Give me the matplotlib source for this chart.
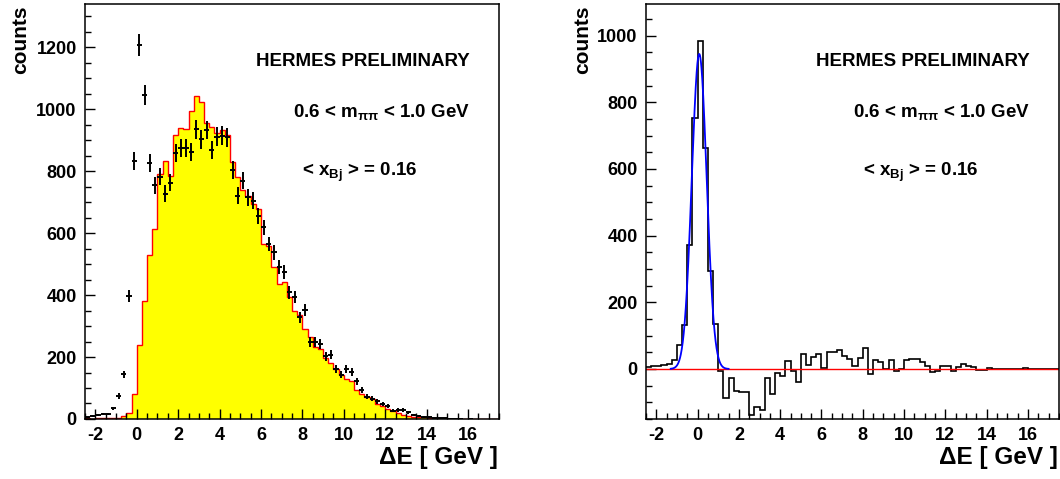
import matplotlib.pyplot as plt
from matplotlib.ticker import MultipleLocator
import numpy as np

plt.rcParams['font.family'] = ['Liberation Sans', 'DejaVu Sans']
plt.rcParams['font.weight'] = 'bold'
plt.rcParams['axes.unicode_minus'] = False
plt.rcParams['mathtext.fontset'] = 'custom'
plt.rcParams['mathtext.rm'] = 'Liberation Sans:bold'
plt.rcParams['mathtext.it'] = 'Liberation Sans:bold'
plt.rcParams['mathtext.bf'] = 'Liberation Sans:bold'

# binning of both histograms: 80 bins of 0.25 GeV from -2.5 GeV
bin_lo = -2.5
bin_w = 0.25
n_bins = 80

# left panel: Monte Carlo (yellow) and data points, counts per bin
mc_counts = [
    2, 1, 3, 2, 4, 3, 4, 10, 20, 80,
    240, 382, 528, 615, 790, 832, 783, 918, 939, 936,
    995, 1042, 1022, 957, 942, 925, 932, 918, 830, 780,
    738, 720, 694, 678, 565, 560, 490, 437, 441, 393,
    350, 335, 292, 264, 231, 225, 198, 182, 161, 143,
    129, 124, 92, 81, 70, 65, 48, 43, 32, 27,
    18, 14, 11, 8, 6, 5, 3, 2, 1, 1,
    1, 0, 0, 0, 0, 0, 0, 0, 0, 0,
]
data_counts = [
    5, 9, 13, 16, 16, 34, 74, 144, 398, 834,
    1208, 1047, 826, 755, 782, 728, 763, 858, 876, 876,
    863, 936, 903, 933, 868, 912, 915, 909, 804, 721,
    769, 716, 705, 656, 619, 565, 538, 490, 474, 409,
    393, 328, 352, 248, 248, 242, 202, 208, 162, 143,
    162, 151, 122, 94, 72, 65, 57, 48, 43, 27,
    29, 29, 22, 13, 9, 6, 5, 3, 2, 2,
    1, 1, 1, 0, 1, 0, 0, 0, 0, 0,
]

# right panel: data minus Monte Carlo, counts per bin
diff_counts = [
    7, 10, 10, 12, 15, 27, 72, 133, 372, 752,
    983, 662, 293, 135, -7, -88, -28, -65, -70, -70,
    -138, -113, -123, -28, -75, -13, -20, 24, -6, -38,
    45, 13, 36, 46, 3, 50, 50, 58, 40, 30,
    10, 33, 62, -14, 26, 20, 0, 28, -5, 0,
    28, 30, 30, 22, 8, -9, -5, 10, 8, -7,
    5, 15, 10, 5, -2, -2, 2, -1, 0, 0,
    -1, 0, -1, 2, 0, 0, 0, 0, 0, 0,
]

# gaussian fit to the exclusive peak
fit_amp = 945.0
fit_mean = 0.08
fit_sigma = 0.36
fit_range = (-1.3, 1.5)

label_lines = ['HERMES PRELIMINARY',
               r'0.6 < m$_{\pi\pi}$ < 1.0 GeV',
               r'< x$_{\mathrm{Bj}}$ > = 0.16']

edges = bin_lo + bin_w * np.arange(n_bins + 1)
centers = edges[:-1] + bin_w / 2


def _style(ax, ylim):
    ax.set_xlim(edges[0], edges[-1])
    ax.set_ylim(*ylim)
    ax.xaxis.set_major_locator(MultipleLocator(2))
    ax.xaxis.set_minor_locator(MultipleLocator(0.5))
    ax.yaxis.set_major_locator(MultipleLocator(200))
    ax.yaxis.set_minor_locator(MultipleLocator(50))
    ax.tick_params(which='both', direction='in', top=False, right=False,
                   width=1, labelsize=13)
    ax.tick_params(which='major', length=7)
    ax.tick_params(which='minor', length=4)
    ax.tick_params(axis='x', pad=6)
    ax.tick_params(axis='y', pad=6)
    for s in ax.spines.values():
        s.set_linewidth(1.1)
    # 文字标注
    ax.text(0.93, 0.861, label_lines[0], transform=ax.transAxes,
            ha='right', va='center', fontsize=13.5)
    ax.text(0.93, 0.74, label_lines[1], transform=ax.transAxes,
            ha='right', va='center', fontsize=13.5)
    ax.text(0.525, 0.593, label_lines[2], transform=ax.transAxes,
            ha='left', va='center', fontsize=13.5)
    ax.text(0.997, -0.094, 'ΔE [ GeV ]', transform=ax.transAxes,
            ha='right', va='center', fontsize=17.5)


fig = plt.figure(figsize=(10.6, 4.79), dpi=100)

# 左图：MC 直方图 + 数据点
ax1 = fig.add_axes([0.0802, 0.1253, 0.3906, 0.8664])
ax1.stairs(mc_counts, edges, fill=True, color='#ffff00', lw=0)
ax1.stairs(mc_counts, edges, color='red', lw=1.0)
dc = np.array(data_counts, dtype=float)
keep = dc > 0
ax1.errorbar(centers[keep], dc[keep], yerr=np.sqrt(dc[keep]), xerr=bin_w / 2,
             fmt='none', ecolor='black', elinewidth=1.4, capsize=0)
_style(ax1, (0, 1340))
fig.text(21 / 1060, 1 - 5 / 479, 'counts', rotation=90, ha='center', va='top',
         fontsize=15)

# 右图：差值直方图 + 高斯拟合
ax2 = fig.add_axes([0.6094, 0.1253, 0.3896, 0.8664])
ax2.axhline(0, color='red', lw=1.0)
ax2.stairs(diff_counts, edges, color='black', lw=1.2, baseline=None)
xf = np.linspace(fit_range[0], fit_range[1], 300)
ax2.plot(xf, fit_amp * np.exp(-0.5 * ((xf - fit_mean) / fit_sigma) ** 2),
         color='blue', lw=1.3)
_style(ax2, (-150, 1095))
fig.text(583 / 1060, 1 - 5 / 479, 'counts', rotation=90, ha='center', va='top',
         fontsize=15)

fig.savefig('out.png', dpi=100)
